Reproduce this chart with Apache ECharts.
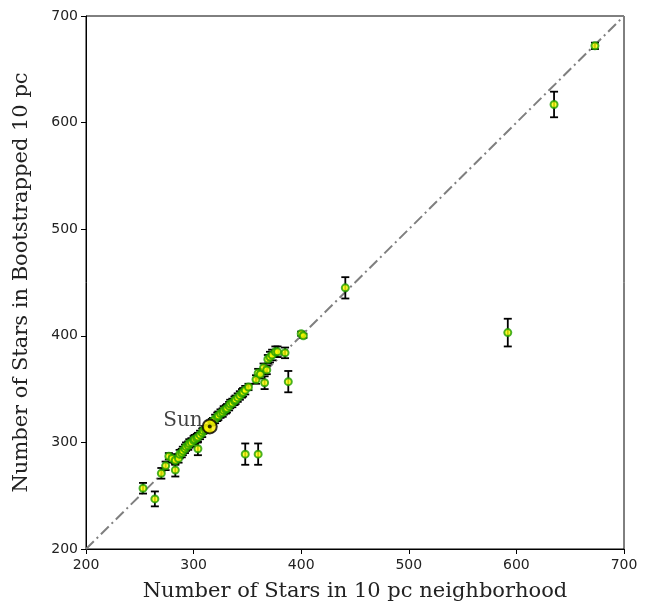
<!DOCTYPE html>
<html>
<head>
<meta charset="utf-8">
<script src="https://cdn.jsdelivr.net/npm/echarts@6/dist/echarts.min.js"></script>
<style>
  html, body { margin: 0; padding: 0; background: #fff; }
  #chart { width: 655px; height: 605px; }
</style>
</head>
<body>
<div id="chart"></div>
<script>
// Stars counted in the 10 pc neighborhood of each sampled position
const starsNeighborhood = [
  253, 264, 270, 274, 277, 280, 283, 283, 286, 287, 289, 290, 292, 293, 295, 296,
  298, 300, 301, 303, 304, 304, 306, 308, 309, 311, 313, 317, 318, 320, 322, 323,
  325, 327, 328, 330, 331, 333, 334, 336, 338, 339, 341, 343, 345, 346, 348, 351,
  358, 360, 362, 365, 366, 368, 369, 371, 373, 376, 378, 385, 388, 348, 360, 400,
  402, 441, 592, 635, 673
];
// Mean number of stars in the bootstrapped 10 pc samples
const starsBootstrapped = [
  257, 247, 271, 278, 287, 285, 274, 283, 285, 289, 290, 292, 294, 296, 297, 299,
  300, 302, 303, 304, 294, 305, 307, 309, 311, 312, 313, 319, 320, 322, 324, 325,
  327, 328, 330, 331, 332, 334, 336, 337, 339, 340, 342, 344, 346, 347, 349, 352,
  359, 365, 364, 370, 356, 368, 378, 380, 382, 385, 385, 384, 357, 289, 289, 402,
  400, 445, 403, 617, 672
];
// Half-width of the bootstrap error bar
const starsError = [
  5, 7, 5, 4, 3, 4, 6, 4, 4, 4, 4, 4, 4, 4, 4, 4,
  4, 4, 4, 4, 6, 4, 4, 4, 3, 3, 3, 3, 3, 4, 4, 4,
  4, 4, 4, 4, 4, 4, 4, 4, 4, 4, 4, 4, 4, 4, 4, 3,
  4, 4, 4, 4, 6, 4, 4, 5, 5, 5, 5, 5, 10, 10, 10, 2,
  2, 10, 13, 12, 3
];
// Position of the Sun
const sunPoint = [315, 315];
const sunError = 5;
const axisTicks = [200, 300, 400, 500, 600, 700];

const points = starsNeighborhood.map((x, i) => [x, starsBootstrapped[i], starsError[i]]);
const errPoints = points.concat([[sunPoint[0], sunPoint[1], sunError]]);

const chart = echarts.init(document.getElementById('chart'));

const tickLabel = { color: '#222', fontFamily: 'DejaVu Sans', fontSize: 14 };
const axisCommon = {
  type: 'value',
  min: axisTicks[0],
  max: axisTicks[axisTicks.length - 1],
  interval: 100,
  axisLine: { show: true, lineStyle: { color: '#000', width: 1 } },
  axisTick: { show: true, length: 5, lineStyle: { color: '#000', width: 1 } },
  splitLine: { show: false },
  nameLocation: 'middle',
  nameTextStyle: { fontFamily: 'DejaVu Serif', fontSize: 21, color: '#222' }
};

chart.setOption({
  animation: false,
  grid: {
    left: 86, right: 31, top: 16, bottom: 56,
    outerBoundsMode: 'none', containLabel: false,
    show: true, borderColor: '#000', borderWidth: 1
  },
  xAxis: Object.assign({}, axisCommon, {
    name: 'Number of Stars in 10 pc neighborhood',
    nameGap: 32,
    axisLabel: Object.assign({ margin: 9 }, tickLabel)
  }),
  yAxis: Object.assign({}, axisCommon, {
    name: 'Number of Stars in Bootstrapped 10 pc',
    nameGap: 54,
    axisLabel: Object.assign({ margin: 8 }, tickLabel)
  }),
  series: [
    {
      // one-to-one reference line
      type: 'line',
      data: [[axisTicks[0], axisTicks[0]], [axisTicks[5], axisTicks[5]]],
      symbol: 'none',
      lineStyle: { color: '#7f7f7f', width: 2, type: [11, 4, 2, 4] },
      z: 1
    },
    {
      // error bars with caps
      type: 'custom',
      data: errPoints,
      z: 2,
      renderItem: function (params, api) {
        const x = api.value(0), y = api.value(1), e = api.value(2);
        const top = api.coord([x, y + e]);
        const bot = api.coord([x, y - e]);
        const cap = 4;
        const style = { stroke: '#000', lineWidth: 1.8 };
        return {
          type: 'group',
          children: [
            { type: 'line', shape: { x1: top[0], y1: top[1], x2: bot[0], y2: bot[1] }, style: style },
            { type: 'line', shape: { x1: top[0] - cap, y1: top[1], x2: top[0] + cap, y2: top[1] }, style: style },
            { type: 'line', shape: { x1: bot[0] - cap, y1: bot[1], x2: bot[0] + cap, y2: bot[1] }, style: style }
          ]
        };
      }
    },
    {
      type: 'scatter',
      data: points.map(p => [p[0], p[1]]),
      symbol: 'circle',
      symbolSize: 7,
      itemStyle: { color: '#ffff00', borderColor: '#1f9e00', borderWidth: 2 },
      z: 3
    },
    {
      // the Sun
      type: 'scatter',
      data: [sunPoint],
      symbol: 'circle',
      symbolSize: 14,
      itemStyle: { color: '#ffee00', borderColor: '#000', borderWidth: 2 },
      label: {
        show: true,
        formatter: 'Sun',
        position: 'left',
        distance: -1,
        offset: [0, -6],
        fontFamily: 'DejaVu Serif',
        fontSize: 20,
        color: '#111'
      },
      z: 4
    },
    {
      type: 'scatter',
      data: [sunPoint],
      symbol: 'circle',
      symbolSize: 4,
      itemStyle: { color: '#000' },
      z: 5
    }
  ]
});
</script>
</body>
</html>
